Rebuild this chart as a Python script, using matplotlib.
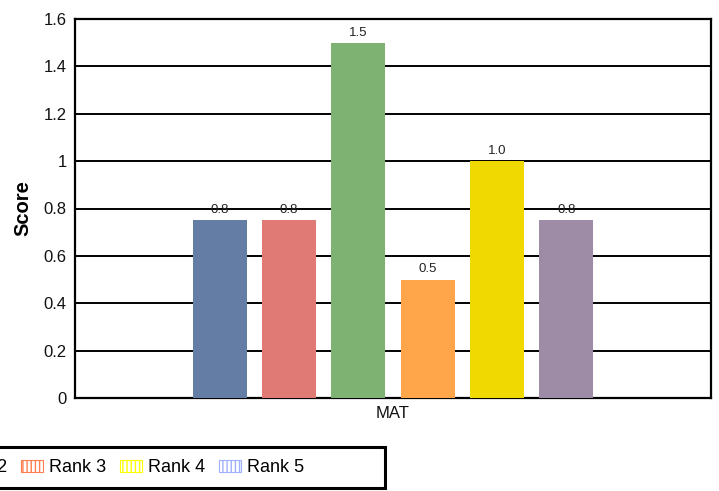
import matplotlib
matplotlib.use("Agg")
import matplotlib.pyplot as plt
from matplotlib.patches import Patch, Rectangle

plt.rcParams['font.family'] = ['Liberation Sans', 'DejaVu Sans']

categories = ["MAT"]
series_names = ["Rank 0", "Rank 1", "Rank 2", "Rank 3", "Rank 4", "Rank 5"]
values = [0.75, 0.75, 1.5, 0.5, 1.0, 0.75]
bar_colors = ["#647DA5", "#E07A75", "#7DB273", "#FFA64A", "#F0D900", "#9E8BA5"]
legend_colors = ["#4C72B0", "#55A868", "#C44E52", "#FF7F50", "#FFFF00", "#A0B0FF"]
yticks = [0, 0.2, 0.4, 0.6, 0.8, 1.0, 1.2, 1.4, 1.6]
ytick_labels = ["0", "0.2", "0.4", "0.6", "0.8", "1", "1.2", "1.4", "1.6"]

W, H = 719, 491
fig = plt.figure(figsize=(W / 100, H / 100), dpi=100)
ax = fig.add_axes([75 / W, 93 / H, 636 / W, 379 / H])

n = len(values)
width = 0.085
step = 0.109
for i, (v, c) in enumerate(zip(values, bar_colors)):
    x = 0 + (i - (n - 1) / 2) * step
    ax.bar(x, v, width=width, color=c, zorder=3)
    ax.annotate(f"{v:.1f}", (x, v), xytext=(0, 3), textcoords="offset points",
                ha="center", va="bottom", fontsize=9.5, color="#222222", zorder=4)

ax.set_xlim(-0.5, 0.5)
ax.set_ylim(0, 1.6)
ax.set_yticks(yticks)
ax.set_yticklabels(ytick_labels, fontsize=12, color="#111111")
ax.set_xticks([0])
ax.set_xticklabels(categories, fontsize=12, color="#111111")
ax.tick_params(axis="both", length=0, pad=6)
ax.yaxis.grid(True, color="black", linewidth=1.4, zorder=0)
ax.set_axisbelow(True)
for s in ax.spines.values():
    s.set_linewidth(1.6)
    s.set_color("black")
ax.set_ylabel("Score", fontsize=14.5, fontweight="bold", labelpad=8)

handles = [Patch(facecolor="none", edgecolor=c, hatch="||||", linewidth=0.8, label=nm)
           for nm, c in zip(series_names, legend_colors)]
leg = fig.legend(handles=handles, loc="center right", bbox_to_anchor=(304 / W, 1 - 468 / H),
                 ncol=6, fontsize=13, frameon=False, handlelength=1.17,
                 handleheight=0.6, handletextpad=0.35, columnspacing=0.8,
                 borderpad=0, borderaxespad=0)
fig.patches.append(Rectangle((-10 / W, (H - 488) / H), 395 / W, 41 / H,
                             transform=fig.transFigure, fill=False,
                             edgecolor="black", linewidth=2.2))

fig.savefig("out.png", dpi=100)
